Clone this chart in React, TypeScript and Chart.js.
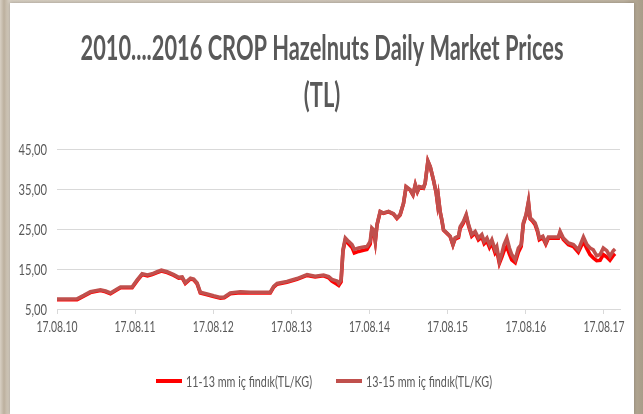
import React, { useEffect, useRef } from 'react';
import { Chart, registerables } from 'chart.js';

Chart.register(...registerables);

const TITLE_LINES = ['2010....2016 CROP Hazelnuts Daily Market Prices', '(TL)'];
const SERIES_LABELS = ['11-13 mm iç findık(TL/KG)', '13-15 mm iç findık(TL/KG)'];

// days since 17.08.2010
const DAY_OFFSETS = [
  0, 40, 94, 125, 156, 203, 227, 250, 281, 297,
  351, 375, 398, 423, 445, 468, 488, 515, 546, 569,
  585, 600, 624, 639, 655, 670, 702, 732, 764, 782,
  810, 857, 904, 951, 997, 1013, 1029, 1075, 1122, 1169,
  1207, 1246, 1270, 1285, 1309, 1317, 1328, 1337, 1348, 1363,
  1379, 1390, 1410, 1433, 1449, 1464, 1472, 1480, 1488, 1496,
  1511, 1526, 1550, 1573, 1589, 1604, 1620, 1632, 1651, 1664,
  1675, 1685, 1695, 1713, 1721, 1734, 1745, 1760, 1773, 1779,
  1783, 1791, 1799, 1807, 1823, 1838, 1851, 1861, 1877, 1885,
  1900, 1913, 1924, 1939, 1955, 1970, 1986, 1997, 2010, 2022,
  2033, 2048, 2056, 2068, 2080, 2090, 2103, 2115, 2126, 2142,
  2157, 2170, 2180, 2193, 2204, 2212, 2222, 2235, 2246, 2255,
  2271, 2285, 2297, 2321, 2344, 2352, 2367, 2391, 2414, 2437,
  2461, 2477, 2492, 2507, 2523, 2539, 2554, 2570, 2585, 2601,
  2609,
];

const SERIES_11_13 = [
  7.3, 7.3, 7.35, 8.2, 9.1, 9.6, 9.3, 8.8, 9.8, 10.3,
  10.3, 12.1, 13.6, 13.3, 13.6, 14.1, 14.5, 14.1, 13.4, 12.7,
  12.8, 11.4, 12.5, 12.3, 11.3, 9.0, 8.55, 8.1, 7.7, 7.8,
  8.8, 9.1, 9.0, 9.0, 9.0, 10.45, 11.2, 11.7, 12.4, 13.4,
  13.0, 13.3, 12.8, 12.0, 11.2, 10.9, 11.8, 19.5, 22.3, 21.3,
  20.4, 19.0, 19.4, 19.7, 19.9, 21.2, 24.8, 24.5, 21.8, 26.0,
  29.3, 28.9, 29.3, 28.7, 27.65, 28.5, 31.4, 35.5, 34.7, 33.5,
  36.0, 34.3, 35.5, 35.2, 36.4, 41.9, 40.5, 37.2, 33.9, 31.4,
  32.9, 29.3, 27.2, 24.7, 23.9, 23.1, 21.0, 22.5, 22.9, 25.2,
  26.5, 28.3, 25.8, 23.2, 24.0, 22.3, 23.0, 21.3, 22.0, 20.4,
  21.5, 19.0, 19.6, 16.4, 18.0, 19.6, 20.6, 18.7, 17.3, 16.6,
  19.2, 20.6, 26.2, 28.4, 31.6, 27.5, 27.0, 26.1, 24.4, 22.3,
  22.8, 21.2, 22.7, 22.7, 22.7, 24.1, 22.4, 21.1, 20.6, 19.2,
  21.9, 20.1, 18.6, 17.8, 17.1, 17.2, 18.6, 18.0, 17.2, 18.4,
  18.8,
];

const SERIES_13_15 = [
  7.5, 7.5, 7.55, 8.4, 9.3, 9.8, 9.5, 9.0, 10.0, 10.5,
  10.5, 12.3, 13.8, 13.5, 13.8, 14.3, 14.7, 14.3, 13.6, 12.9,
  13.0, 11.6, 12.7, 12.5, 11.5, 9.2, 8.75, 8.3, 7.9, 8.0,
  9.0, 9.3, 9.2, 9.2, 9.2, 10.65, 11.4, 11.9, 12.6, 13.6,
  13.2, 13.5, 13.1, 12.4, 12.0, 11.4, 12.3, 19.8, 22.75, 21.9,
  21.1, 19.9, 20.25, 20.5, 20.6, 21.9, 25.25, 24.8, 22.0, 26.1,
  29.4, 29.0, 29.4, 28.8, 27.75, 28.6, 31.5, 35.6, 34.8, 33.6,
  36.1, 34.4, 35.6, 35.3, 36.5, 42.0, 40.6, 37.3, 34.0, 31.5,
  33.0, 29.4, 27.3, 24.8, 24.0, 23.2, 21.1, 22.8, 23.2, 25.6,
  26.9, 28.6, 26.1, 23.6, 24.4, 22.75, 23.6, 21.9, 22.75, 21.1,
  22.3, 19.8, 20.6, 16.9, 19.0, 21.1, 22.75, 20.25, 18.6, 17.3,
  20.25, 21.1, 26.5, 28.6, 31.9, 27.75, 27.3, 26.5, 24.8, 22.75,
  23.2, 21.5, 23.0, 23.0, 23.0, 24.4, 22.75, 21.5, 21.1, 19.8,
  23.0, 21.1, 20.25, 19.8, 18.3, 18.6, 20.25, 19.6, 18.2, 19.6,
  20.0,
];

const X_TICK_DAYS = [0, 365, 731, 1096, 1461, 1826, 2192, 2557];
const X_TICK_LABELS = ['17.08.10', '17.08.11', '17.08.12', '17.08.13', '17.08.14', '17.08.15', '17.08.16', '17.08.17'];
const X_MAX_DAY = 2632;
const Y_MIN = 5;
const Y_MAX = 45;
const Y_STEP = 10;

const TEXT_COLOR = '#595959';
const GRID_COLOR = '#d9d9d9';
const LABEL_FONT = '16px Lato, sans-serif';

const formatY = (v: number) => v.toFixed(2).replace('.', ',');

function drawScaled(ctx: CanvasRenderingContext2D, text: string, x: number, y: number, sx: number) {
  ctx.save();
  ctx.translate(x, y);
  ctx.scale(sx, 1);
  ctx.fillText(text, 0, 0);
  ctx.restore();
}

const titlePlugin = {
  id: 'condensedTitle',
  afterDraw(chart: any) {
    const ctx = chart.ctx as CanvasRenderingContext2D;
    ctx.save();
    ctx.fillStyle = TEXT_COLOR;
    ctx.font = 'bold 34px Lato, sans-serif';
    ctx.textAlign = 'center';
    ctx.textBaseline = 'alphabetic';
    const sx = 483 / ctx.measureText(TITLE_LINES[0]).width;
    const cx = chart.width / 2;
    const baselines = [57, 104];
    TITLE_LINES.forEach((line, i) => drawScaled(ctx, line, cx, baselines[i], sx));
    ctx.restore();
  },
};

const axisLabelsPlugin = {
  id: 'condensedAxisLabels',
  afterDraw(chart: any) {
    const ctx = chart.ctx as CanvasRenderingContext2D;
    const xs = chart.scales.x;
    const ys = chart.scales.y;
    const area = chart.chartArea;
    ctx.save();
    ctx.fillStyle = TEXT_COLOR;
    ctx.font = LABEL_FONT;
    ctx.textBaseline = 'alphabetic';

    ctx.textAlign = 'center';
    const sxX = 41 / ctx.measureText(X_TICK_LABELS[0]).width;
    xs.ticks.forEach((t: any, i: number) => {
      drawScaled(ctx, X_TICK_LABELS[i], xs.getPixelForValue(t.value), area.bottom + 23, sxX);
    });

    ctx.textAlign = 'right';
    const sxY = 28.5 / ctx.measureText(formatY(Y_MAX)).width;
    ys.ticks.forEach((t: any) => {
      drawScaled(ctx, formatY(t.value), area.left - 10, ys.getPixelForValue(t.value) + 6, sxY);
    });
    ctx.restore();
  },
};

const legendPlugin = {
  id: 'condensedLegend',
  afterDraw(chart: any) {
    const ctx = chart.ctx as CanvasRenderingContext2D;
    const datasets = chart.data.datasets;
    ctx.save();
    ctx.font = LABEL_FONT;
    ctx.textAlign = 'left';
    ctx.textBaseline = 'alphabetic';
    const sx = 126 / ctx.measureText(datasets[0].label).width;
    const box = 26;
    const gapText = 4;
    const gapItem = 24;
    const widths = datasets.map((d: any) => box + gapText + ctx.measureText(d.label).width * sx);
    const total = widths.reduce((a: number, b: number) => a + b, 0) + gapItem * (datasets.length - 1);
    let x = chart.width / 2 + 2 - total / 2;
    const y = 378;
    datasets.forEach((d: any, i: number) => {
      ctx.fillStyle = d.borderColor;
      ctx.fillRect(x, y - 2, box, 4);
      ctx.fillStyle = TEXT_COLOR;
      drawScaled(ctx, d.label, x + box + gapText, y + 6, sx);
      x += widths[i] + gapItem;
    });
    ctx.restore();
  },
};

export default function App() {
  const ref = useRef<HTMLCanvasElement>(null);

  useEffect(() => {
    document.body.style.margin = '0';
    const toPoints = (vals: number[]) => DAY_OFFSETS.map((d, i) => ({ x: d, y: vals[i] }));
    const chart = new Chart(ref.current as HTMLCanvasElement, {
      type: 'line',
      data: {
        datasets: [
          {
            label: SERIES_LABELS[0],
            data: toPoints(SERIES_11_13),
            borderColor: '#ff0000',
            backgroundColor: '#ff0000',
            borderWidth: 3.6,
            pointRadius: 0,
            tension: 0,
            order: 1,
          },
          {
            label: SERIES_LABELS[1],
            data: toPoints(SERIES_13_15),
            borderColor: '#c0504d',
            backgroundColor: '#c0504d',
            borderWidth: 3.6,
            pointRadius: 0,
            tension: 0,
            order: 0,
          },
        ],
      },
      options: {
        animation: false,
        responsive: false,
        devicePixelRatio: 1,
        layout: { padding: { top: 146, left: 0, right: 14, bottom: 60 } },
        scales: {
          x: {
            type: 'linear',
            min: 0,
            max: X_MAX_DAY,
            afterBuildTicks: (scale: any) => {
              scale.ticks = X_TICK_DAYS.map((v) => ({ value: v }));
            },
            afterFit: (scale: any) => {
              scale.height = 45;
            },
            ticks: { display: false, includeBounds: false, autoSkip: false },
            grid: {
              drawOnChartArea: false,
              drawTicks: true,
              tickLength: 5,
              color: GRID_COLOR,
            },
            border: { display: true, color: GRID_COLOR },
          },
          y: {
            type: 'linear',
            min: Y_MIN,
            max: Y_MAX,
            afterFit: (scale: any) => {
              scale.width = 47;
            },
            ticks: { display: false, stepSize: Y_STEP },
            grid: { drawTicks: false, color: GRID_COLOR },
            border: { display: false },
          },
        },
        plugins: {
          title: { display: false },
          tooltip: { enabled: false },
          legend: { display: false },
        },
      },
      plugins: [titlePlugin, axisLabelsPlugin, legendPlugin],
    });
    return () => chart.destroy();
  }, []);

  return (
    <div
      style={{
        position: 'relative',
        width: 643,
        height: 414,
        overflow: 'hidden',
        background:
          'linear-gradient(90deg, #d8d0c4 0px, #bcb09e 4px, #d4ccbf 9px, #cdc4b7 50%, #bdb29f 97%, #a89c88 100%)',
      }}
    >
      <div
        style={{
          position: 'absolute',
          left: 10,
          top: 3,
          width: 624,
          height: 411,
          background: '#ffffff',
          boxShadow: '0 0 3px rgba(0,0,0,0.25)',
        }}
      >
        <canvas ref={ref} width={624} height={411} style={{ display: 'block', width: 624, height: 411 }} />
      </div>
    </div>
  );
}
